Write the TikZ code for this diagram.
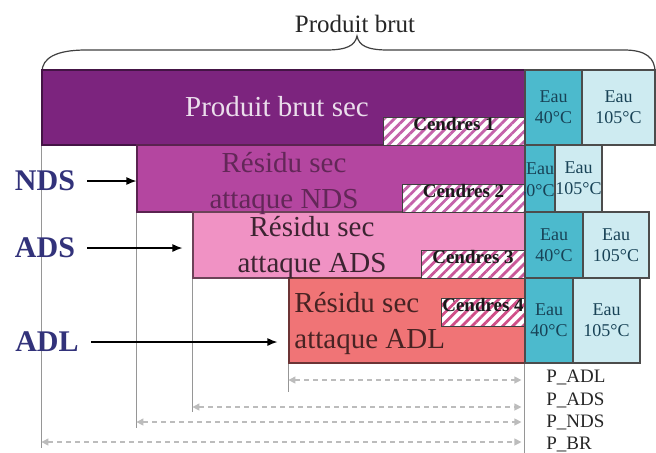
\documentclass[tikz,border=0pt]{standalone}
\usepackage{fontspec}
\setmainfont{Liberation Serif}
\usetikzlibrary{fit,arrows.meta,patterns.meta}

\definecolor{brutsec}{RGB}{124,36,126}
\definecolor{residunds}{RGB}{180,70,160}
\definecolor{residuads}{RGB}{240,146,196}
\definecolor{residuadl}{RGB}{240,116,118}
\definecolor{eauquar}{RGB}{76,186,205}
\definecolor{eaucent}{RGB}{206,235,241}
\definecolor{eautexte}{RGB}{24,66,86}
\definecolor{etiq}{RGB}{50,50,122}
\definecolor{hachure}{RGB}{196,98,170}
\definecolor{guide}{RGB}{150,150,150}
\definecolor{cote}{RGB}{188,188,188}

\begin{document}
\begin{tikzpicture}[x=0.5pt, y=-0.5pt,
    bloc/.style={fit={#1}, inner sep=0pt, line width=0.6pt},
    boiteeau/.style={fill=#1, draw=black!70},
    txtgrand/.style={font=\fontsize{14.5}{18}\selectfont, align=center, inner sep=0pt},
    eau/.style={font=\fontsize{9}{10.5}\selectfont, align=center, text=eautexte, inner sep=0pt},
    cendres/.style={draw=black!75, line width=0.5pt, inner sep=0pt, preaction={fill=white},
        pattern={Lines[angle=45,distance=3.6pt,line width=1.4pt]}, pattern color=#1,
        font=\bfseries\fontsize{9.5}{10}\selectfont, text=black!90},
    etiquette/.style={font=\bfseries\fontsize{15}{15}\selectfont, text=etiq, inner sep=1pt},
    fleche/.style={line width=0.6pt, -{Latex[length=5pt,width=4pt]}},
    guidetrait/.style={draw=guide, line width=0.6pt},
    cotetrait/.style={draw=cote, line width=0.6pt, dash pattern=on 2.5pt off 2pt,
        {Triangle[length=3.5pt,width=3.5pt]}-{Triangle[length=3.5pt,width=3.5pt]}},
    accolade/.style={draw=black!75, line width=0.6pt}]
    \useasboundingbox (0,0) rectangle (656,452);

    % accolade du haut
    \draw[accolade] (42,72) .. controls (42,58) and (56,50) .. (86,50) -- (326,50)
        .. controls (346,50) and (355,46) .. (357,36) .. controls (359,46) and (368,50) .. (388,50)
        -- (624,50) .. controls (646,50) and (655,58) .. (655,72);
    \node[font=\fontsize{12.5}{13}\selectfont, text=black!85] (titre) at (355,24) {Produit brut};

    % bandes
    \node[bloc={(42,70) (525,145)}, fill=brutsec, draw=brutsec!55!black] (brut) {};
    \node[bloc={(137,145) (525,212)}, fill=residunds, draw=residunds!50!black] (nds) {};
    \node[bloc={(193,212) (525,278)}, fill=residuads, draw=residuads!45!black] (ads) {};
    \node[bloc={(289,278) (525,363)}, fill=residuadl, draw=residuadl!45!black] (adl) {};

    % lignes de rappel
    \foreach \n/\ybas in {brut/448, nds/428, ads/412, adl/392}
        \draw[guidetrait] (\n.south west) -- (\n.west |- 0,\ybas);

    \node[txtgrand, text=brutsec!15!white] (tbrut) at (277,107) {Produit brut sec};
    \node[txtgrand, text=residunds!55!black] (tnds) at (284,183) {Résidu sec\\attaque NDS};
    \node[txtgrand, text=residuads!25!black] (tads) at (312,247) {Résidu sec\\attaque ADS};
    \node[txtgrand, align=left, anchor=west, text=residuadl!30!black] (tadl) at (294,323) {Résidu sec\\attaque ADL};

    % cendres
    \node[cendres=hachure, fit={(383,117) (525,145)}] (cendres1) {Cendres 1};
    \node[cendres=hachure, fit={(402,184) (525,212)}] (cendres2) {Cendres 2};
    \node[cendres=hachure!90!red, fit={(421,250) (525,278)}] (cendres3) {Cendres 3};
    \node[cendres=hachure!80!red, fit={(441,298) (525,326)}] (cendres4) {Cendres 4};

    % eau
    \node[bloc={(525,70) (582,145)}, boiteeau=eauquar] (eauA1) {};
    \node[bloc={(582,70) (655,145)}, boiteeau=eaucent] (eauB1) {};
    \node[bloc={(525,145) (555,212)}, boiteeau=eauquar] (eauA2) {};
    \node[bloc={(555,145) (602,212)}, boiteeau=eaucent] (eauB2) {};
    \node[bloc={(525,212) (583,278)}, boiteeau=eauquar] (eauA3) {};
    \node[bloc={(583,212) (649,278)}, boiteeau=eaucent] (eauB3) {};
    \node[bloc={(525,278) (573,363)}, boiteeau=eauquar] (eauA4) {};
    \node[bloc={(573,278) (640,363)}, boiteeau=eaucent] (eauB4) {};

    \node[eau] (teA1) at (eauA1) {Eau\\40°C};
    \node[eau] (teB1) at (eauB1) {Eau\\105°C};
    \begin{scope}
        \clip (eauA2.north west) rectangle (eauA2.south east);
        \node[eau] (teA2h) at (540,169) {Eau};
        \node[eau, anchor=east] (teA2b) at (555,191) {40°C};
    \end{scope}
    \node[eau] (teB2) at (eauB2) {Eau\\105°C};
    \node[eau] (teA3) at (eauA3) {Eau\\40°C};
    \node[eau] (teB3) at (eauB3) {Eau\\105°C};
    \node[eau] (teA4) at (eauA4) {Eau\\40°C};
    \node[eau] (teB4) at (eauB4) {Eau\\105°C};

    % attaques
    \node[etiquette] (lnds) at (45,181) {NDS};
    \node[etiquette] (lads) at (45,248) {ADS};
    \node[etiquette] (ladl) at (47,342) {ADL};
    \draw[fleche, shorten <=5pt] (lnds) -- (lnds -| nds.west);
    \draw[fleche, shorten <=5pt, shorten >=5pt] (lads) -- (lads -| ads.west);
    \draw[fleche, shorten <=5pt, shorten >=5.5pt] (ladl) -- (ladl -| adl.west);

    % cotes
    \draw[guidetrait] (eauA4.south west) -- ++(0,89);
    \foreach \n/\ycote in {adl/380, ads/407, nds/422, brut/442}
        \draw[cotetrait, shorten >=1.5pt] (\n.west |- 0,\ycote) -- (eauA4.west |- 0,\ycote);
    \node[anchor=north west, align=left, inner sep=0pt, font=\fontsize{9.5}{11.1}\selectfont,
        text=black!85] (pcotes) at (546,370) {P\_ADL\\P\_ADS\\P\_NDS\\P\_BR};
\end{tikzpicture}
\end{document}
